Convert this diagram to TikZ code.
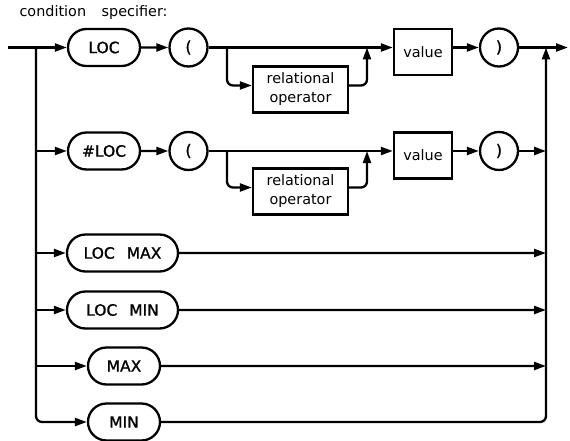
\documentclass[tikz,border=0pt]{standalone}
\usepackage{fontspec}
\setmainfont{DejaVu Sans}
\newfontfamily\keyfont{DejaVu Sans}[FakeBold=1.2]
\usepackage{tikz}
\usetikzlibrary{arrows.meta, positioning, shapes.misc}

\begin{document}
\begin{tikzpicture}[
    x=1pt, y=-1pt,
    termNode/.style={rounded rectangle, draw, line width=2.3pt, minimum height=37pt, inner xsep=2pt, font=\keyfont\fontsize{15.5}{18}\selectfont},
    parenNode/.style={circle, draw, line width=2.3pt, minimum size=38pt, inner sep=0pt, font=\keyfont\fontsize{16}{18}\selectfont},
    boxNode/.style={rectangle, draw, line width=2.3pt, minimum height=46pt, align=center, font=\fontsize{14.4}{19}\selectfont},
    flowLine/.style={-{Triangle[length=12pt, width=8pt]}, line width=2.3pt, rounded corners=6pt}
]
    \useasboundingbox (0,0) rectangle (570,441);

    % Title
    \node[anchor=base west, font=\fontsize{14.4}{17}\selectfont] (title) at (16,17) {condition\hspace{11pt} specifier:};

    % Rails
    \coordinate (start)  at (8,47.5);
    \coordinate (split)  at (36,47.5);
    \coordinate (join)   at (546,47.5);
    \coordinate (finish) at (568,47.5);

    % Row 1: LOC ( [relational operator] value )
    \node[termNode, minimum width=76pt]  (locA)  at (104,47.5) {LOC};
    \node[parenNode]                     (lparA) at (188.5,47.5) {(};
    \node[boxNode, minimum width=95pt]   (relA)  at (300.5,89.5) {relational\\operator};
    \node[boxNode, minimum width=58pt]   (valA)  at (423,52) {value};
    \node[parenNode]                     (rparA) at (499,47.5) {)};
    \coordinate (brA)  at (227,47.5);
    \coordinate (mrgA) at (367,47.5);

    % Row 2: #LOC ( [relational operator] value )
    \node[termNode, minimum width=76pt]  (locB)  at (104,151) {\#LOC};
    \node[parenNode]                     (lparB) at (188.5,151) {(};
    \node[boxNode, minimum width=95pt]   (relB)  at (300.5,191.5) {relational\\operator};
    \node[boxNode, minimum width=58pt]   (valB)  at (423,155.5) {value};
    \node[parenNode]                     (rparB) at (499,151) {)};
    \coordinate (brB)  at (227,151);
    \coordinate (mrgB) at (367,151);

    % Rows 3-6: keywords
    \node[termNode, minimum width=115pt] (locMax) at (122.5,253) {LOC\hspace{12pt}MAX};
    \node[termNode, minimum width=115pt] (locMin) at (122.5,310) {LOC\hspace{12pt}MIN};
    \node[termNode, minimum width=76pt]  (maxN)   at (124,366) {MAX};
    \node[termNode, minimum width=76pt]  (minN)   at (124,422) {MIN};

    % Row 1 connections
    \draw[flowLine] (start) -- (locA);
    \draw[flowLine] (locA) -- (lparA);
    \draw[flowLine] (lparA) -- (lparA -| valA.west);
    \draw[flowLine] (brA) |- ([yshift=4pt]relA.west);
    \draw[flowLine] ([yshift=4pt]relA.east) -| (mrgA);
    \draw[flowLine] (valA.east |- rparA) -- (rparA);
    \draw[flowLine] (rparA) -- (finish);

    % Row 2 connections
    \draw[flowLine] (split |- locB) -- (locB);
    \draw[flowLine] (locB) -- (lparB);
    \draw[flowLine] (lparB) -- (lparB -| valB.west);
    \draw[flowLine] (brB) |- ([yshift=4pt]relB.west);
    \draw[flowLine] ([yshift=4pt]relB.east) -| (mrgB);
    \draw[flowLine] (valB.east |- rparB) -- (rparB);
    \draw[flowLine] (rparB) -- (join |- rparB);

    % Left rail into keywords
    \draw[flowLine] (split) |- (minN);
    \draw[flowLine] (split |- locMax) -- (locMax);
    \draw[flowLine] (split |- locMin) -- (locMin);
    \draw[flowLine] (split |- maxN) -- (maxN);

    % Keywords into right rail
    \draw[flowLine] (locMax) -- (join |- locMax);
    \draw[flowLine] (locMin) -- (join |- locMin);
    \draw[flowLine] (maxN) -- (join |- maxN);
    \draw[flowLine] (minN) -| (join);
\end{tikzpicture}
\end{document}
